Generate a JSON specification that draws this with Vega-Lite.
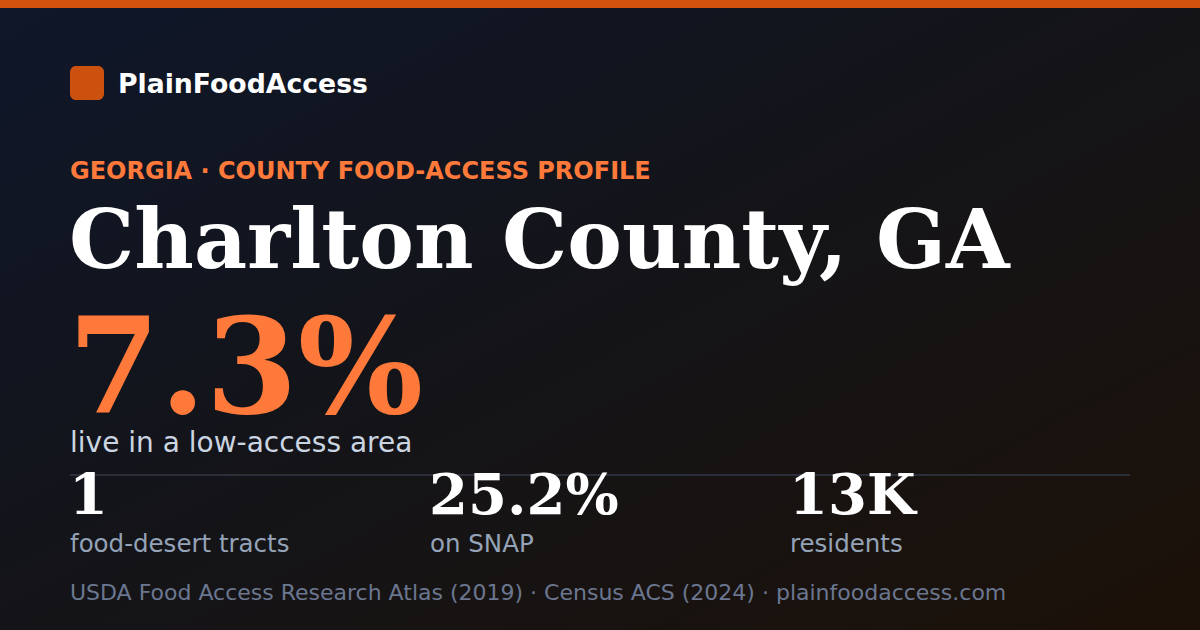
{
  "$schema": "https://vega.github.io/schema/vega-lite/v6.json",
  "width": 1200,
  "height": 630,
  "autosize": {"type": "fit", "contains": "padding"},
  "padding": 0,
  "background": "#121420",
  "config": {"view": {"stroke": null}},
  "data": {
    "values": [
      {"key": "brand", "text": "PlainFoodAccess"},
      {"key": "kicker", "text": "GEORGIA · COUNTY FOOD-ACCESS PROFILE"},
      {"key": "title", "text": "Charlton County, GA"},
      {"key": "hero", "text": "7.3%"},
      {"key": "hero_label", "text": "live in a low-access area"},
      {"key": "stat1", "text": "1"},
      {"key": "stat1_label", "text": "food-desert tracts"},
      {"key": "stat2", "text": "25.2%"},
      {"key": "stat2_label", "text": "on SNAP"},
      {"key": "stat3", "text": "13K"},
      {"key": "stat3_label", "text": "residents"},
      {"key": "source", "text": "USDA Food Access Research Atlas (2019) · Census ACS (2024) · plainfoodaccess.com"}
    ]
  },
  "encoding": {
    "x": {"type": "quantitative", "scale": {"domain": [0, 1200], "nice": false, "zero": false}, "axis": null},
    "y": {"type": "quantitative", "scale": {"domain": [0, 630], "nice": false, "zero": false, "reverse": true}, "axis": null}
  },
  "layer": [
    {
      "transform": [{"filter": "datum.key == 'brand'"}],
      "mark": {
        "type": "rect",
        "fill": {
          "gradient": "linear", "x1": 0, "y1": 0, "x2": 1, "y2": 1,
          "stops": [
            {"offset": 0, "color": "#0f172a"},
            {"offset": 0.5, "color": "#141418"},
            {"offset": 1, "color": "#1c1108"}
          ]
        }
      },
      "encoding": {"x": {"datum": 0}, "x2": {"datum": 1200}, "y": {"datum": 0}, "y2": {"datum": 630}}
    },
    {
      "transform": [{"filter": "datum.key == 'brand'"}],
      "mark": {"type": "rect", "fill": "#d2520e"},
      "encoding": {"x": {"datum": 0}, "x2": {"datum": 1200}, "y": {"datum": 0}, "y2": {"datum": 8}}
    },
    {
      "transform": [{"filter": "datum.key == 'brand'"}],
      "mark": {"type": "rect", "fill": "#cc510f", "cornerRadius": 6},
      "encoding": {"x": {"datum": 70}, "x2": {"datum": 104}, "y": {"datum": 66}, "y2": {"datum": 100}}
    },
    {
      "transform": [{"filter": "datum.key == 'stat1'"}],
      "mark": {"type": "rule", "stroke": "#2a2f3a", "strokeWidth": 2},
      "encoding": {"x": {"datum": 70}, "x2": {"datum": 1130}, "y": {"datum": 475}}
    },
    {
      "transform": [{"filter": "datum.key == 'brand'"}],
      "mark": {"type": "text", "font": "DejaVu Sans", "fontWeight": "bold", "fontSize": 26.7, "color": "#ffffff", "align": "left", "baseline": "alphabetic"},
      "encoding": {"x": {"datum": 118}, "y": {"datum": 93}, "text": {"field": "text"}}
    },
    {
      "transform": [{"filter": "datum.key == 'kicker'"}],
      "mark": {"type": "text", "font": "DejaVu Sans", "fontWeight": "bold", "fontSize": 24, "color": "#ff7a3a", "align": "left", "baseline": "alphabetic"},
      "encoding": {"x": {"datum": 70}, "y": {"datum": 179}, "text": {"field": "text"}}
    },
    {
      "transform": [{"filter": "datum.key == 'title'"}],
      "mark": {"type": "text", "font": "DejaVu Serif", "fontWeight": "bold", "fontSize": 82, "color": "#ffffff", "align": "left", "baseline": "alphabetic"},
      "encoding": {"x": {"datum": 69}, "y": {"datum": 268}, "text": {"field": "text"}}
    },
    {
      "transform": [{"filter": "datum.key == 'hero'"}],
      "mark": {"type": "text", "font": "DejaVu Serif", "fontWeight": "bold", "fontSize": 132, "color": "#ff7a3a", "align": "left", "baseline": "alphabetic"},
      "encoding": {"x": {"datum": 68}, "y": {"datum": 413}, "text": {"field": "text"}}
    },
    {
      "transform": [{"filter": "datum.key == 'hero_label'"}],
      "mark": {"type": "text", "font": "DejaVu Sans", "fontSize": 28, "color": "#cbd5e1", "align": "left", "baseline": "alphabetic"},
      "encoding": {"x": {"datum": 70}, "y": {"datum": 452}, "text": {"field": "text"}}
    },
    {
      "transform": [{"filter": "datum.key == 'stat1'"}],
      "mark": {"type": "text", "font": "DejaVu Serif", "fontWeight": "bold", "fontSize": 56, "color": "#ffffff", "align": "left", "baseline": "alphabetic"},
      "encoding": {"x": {"datum": 69}, "y": {"datum": 514}, "text": {"field": "text"}}
    },
    {
      "transform": [{"filter": "datum.key == 'stat2'"}],
      "mark": {"type": "text", "font": "DejaVu Serif", "fontWeight": "bold", "fontSize": 56, "color": "#ffffff", "align": "left", "baseline": "alphabetic"},
      "encoding": {"x": {"datum": 429}, "y": {"datum": 514}, "text": {"field": "text"}}
    },
    {
      "transform": [{"filter": "datum.key == 'stat3'"}],
      "mark": {"type": "text", "font": "DejaVu Serif", "fontWeight": "bold", "fontSize": 56, "color": "#ffffff", "align": "left", "baseline": "alphabetic"},
      "encoding": {"x": {"datum": 789}, "y": {"datum": 514}, "text": {"field": "text"}}
    },
    {
      "transform": [{"filter": "datum.key == 'stat1_label'"}],
      "mark": {"type": "text", "font": "DejaVu Sans", "fontSize": 24.5, "color": "#94a3b8", "align": "left", "baseline": "alphabetic"},
      "encoding": {"x": {"datum": 70}, "y": {"datum": 552}, "text": {"field": "text"}}
    },
    {
      "transform": [{"filter": "datum.key == 'stat2_label'"}],
      "mark": {"type": "text", "font": "DejaVu Sans", "fontSize": 24.5, "color": "#94a3b8", "align": "left", "baseline": "alphabetic"},
      "encoding": {"x": {"datum": 430}, "y": {"datum": 552}, "text": {"field": "text"}}
    },
    {
      "transform": [{"filter": "datum.key == 'stat3_label'"}],
      "mark": {"type": "text", "font": "DejaVu Sans", "fontSize": 24.5, "color": "#94a3b8", "align": "left", "baseline": "alphabetic"},
      "encoding": {"x": {"datum": 790}, "y": {"datum": 552}, "text": {"field": "text"}}
    },
    {
      "transform": [{"filter": "datum.key == 'source'"}],
      "mark": {"type": "text", "font": "DejaVu Sans", "fontSize": 22, "color": "#6b7790", "align": "left", "baseline": "alphabetic"},
      "encoding": {"x": {"datum": 70}, "y": {"datum": 600}, "text": {"field": "text"}}
    }
  ]
}
